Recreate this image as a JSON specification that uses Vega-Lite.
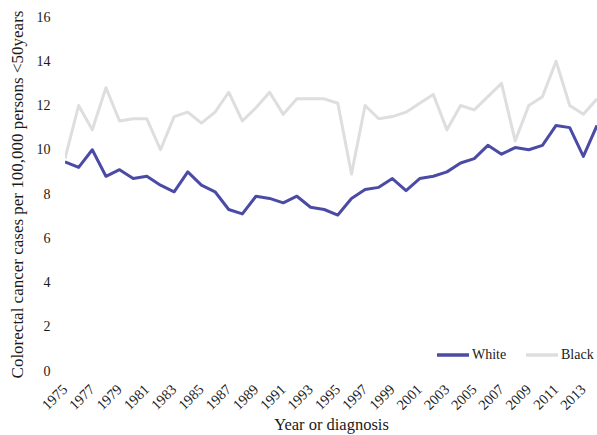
{
  "$schema": "https://vega.github.io/schema/vega-lite/v6.json",
  "width": 532,
  "height": 354,
  "autosize": "none",
  "padding": {"left": 65, "top": 17, "right": 0, "bottom": 64},
  "background": "white",
  "config": {
    "view": {"stroke": null},
    "font": "Liberation Serif"
  },
  "data": {
    "values": [
      {"year": 1975, "race": "White", "rate": 9.45},
      {"year": 1976, "race": "White", "rate": 9.2},
      {"year": 1977, "race": "White", "rate": 10.0},
      {"year": 1978, "race": "White", "rate": 8.8},
      {"year": 1979, "race": "White", "rate": 9.1},
      {"year": 1980, "race": "White", "rate": 8.7},
      {"year": 1981, "race": "White", "rate": 8.8},
      {"year": 1982, "race": "White", "rate": 8.4},
      {"year": 1983, "race": "White", "rate": 8.1},
      {"year": 1984, "race": "White", "rate": 9.0},
      {"year": 1985, "race": "White", "rate": 8.4},
      {"year": 1986, "race": "White", "rate": 8.1},
      {"year": 1987, "race": "White", "rate": 7.3},
      {"year": 1988, "race": "White", "rate": 7.1},
      {"year": 1989, "race": "White", "rate": 7.9},
      {"year": 1990, "race": "White", "rate": 7.8},
      {"year": 1991, "race": "White", "rate": 7.6},
      {"year": 1992, "race": "White", "rate": 7.9},
      {"year": 1993, "race": "White", "rate": 7.4},
      {"year": 1994, "race": "White", "rate": 7.3},
      {"year": 1995, "race": "White", "rate": 7.05},
      {"year": 1996, "race": "White", "rate": 7.8},
      {"year": 1997, "race": "White", "rate": 8.2},
      {"year": 1998, "race": "White", "rate": 8.3},
      {"year": 1999, "race": "White", "rate": 8.7},
      {"year": 2000, "race": "White", "rate": 8.15},
      {"year": 2001, "race": "White", "rate": 8.7},
      {"year": 2002, "race": "White", "rate": 8.8},
      {"year": 2003, "race": "White", "rate": 9.0},
      {"year": 2004, "race": "White", "rate": 9.4},
      {"year": 2005, "race": "White", "rate": 9.6},
      {"year": 2006, "race": "White", "rate": 10.2},
      {"year": 2007, "race": "White", "rate": 9.8},
      {"year": 2008, "race": "White", "rate": 10.1},
      {"year": 2009, "race": "White", "rate": 10.0},
      {"year": 2010, "race": "White", "rate": 10.2},
      {"year": 2011, "race": "White", "rate": 11.1},
      {"year": 2012, "race": "White", "rate": 11.0},
      {"year": 2013, "race": "White", "rate": 9.7},
      {"year": 2014, "race": "White", "rate": 11.1},
      {"year": 1975, "race": "Black", "rate": 9.6},
      {"year": 1976, "race": "Black", "rate": 12.0},
      {"year": 1977, "race": "Black", "rate": 10.9},
      {"year": 1978, "race": "Black", "rate": 12.8},
      {"year": 1979, "race": "Black", "rate": 11.3},
      {"year": 1980, "race": "Black", "rate": 11.4},
      {"year": 1981, "race": "Black", "rate": 11.4},
      {"year": 1982, "race": "Black", "rate": 10.0},
      {"year": 1983, "race": "Black", "rate": 11.5},
      {"year": 1984, "race": "Black", "rate": 11.7},
      {"year": 1985, "race": "Black", "rate": 11.2},
      {"year": 1986, "race": "Black", "rate": 11.7},
      {"year": 1987, "race": "Black", "rate": 12.6},
      {"year": 1988, "race": "Black", "rate": 11.3},
      {"year": 1989, "race": "Black", "rate": 11.9},
      {"year": 1990, "race": "Black", "rate": 12.6},
      {"year": 1991, "race": "Black", "rate": 11.6},
      {"year": 1992, "race": "Black", "rate": 12.3},
      {"year": 1993, "race": "Black", "rate": 12.3},
      {"year": 1994, "race": "Black", "rate": 12.3},
      {"year": 1995, "race": "Black", "rate": 12.1},
      {"year": 1996, "race": "Black", "rate": 8.9},
      {"year": 1997, "race": "Black", "rate": 12.0},
      {"year": 1998, "race": "Black", "rate": 11.4},
      {"year": 1999, "race": "Black", "rate": 11.5},
      {"year": 2000, "race": "Black", "rate": 11.7},
      {"year": 2001, "race": "Black", "rate": 12.1},
      {"year": 2002, "race": "Black", "rate": 12.5},
      {"year": 2003, "race": "Black", "rate": 10.9},
      {"year": 2004, "race": "Black", "rate": 12.0},
      {"year": 2005, "race": "Black", "rate": 11.8},
      {"year": 2006, "race": "Black", "rate": 12.4},
      {"year": 2007, "race": "Black", "rate": 13.0},
      {"year": 2008, "race": "Black", "rate": 10.4},
      {"year": 2009, "race": "Black", "rate": 12.0},
      {"year": 2010, "race": "Black", "rate": 12.4},
      {"year": 2011, "race": "Black", "rate": 14.0},
      {"year": 2012, "race": "Black", "rate": 12.0},
      {"year": 2013, "race": "Black", "rate": 11.6},
      {"year": 2014, "race": "Black", "rate": 12.3}
    ]
  },
  "mark": {"type": "line", "strokeWidth": 3, "strokeJoin": "round", "clip": true},
  "encoding": {
    "x": {
      "field": "year",
      "type": "quantitative",
      "scale": {"domain": [1975, 2014], "nice": false, "zero": false},
      "axis": {
        "title": "Year or diagnosis",
        "titleFont": "Liberation Serif",
        "titleFontSize": 16.5,
        "titleFontWeight": "normal",
        "titleColor": "#1a1a1a",
        "titlePadding": 4,
        "values": [1975, 1977, 1979, 1981, 1983, 1985, 1987, 1989, 1991, 1993, 1995, 1997, 1999, 2001, 2003, 2005, 2007, 2009, 2011, 2013],
        "format": "d",
        "labelAngle": -45,
        "labelAlign": "right",
        "labelBaseline": "middle",
        "labelFont": "Liberation Serif",
        "labelFontSize": 14.5,
        "labelColor": "#1a1a1a",
        "labelPadding": 16,
        "labelDx": 4,
        "labelOverlap": false,
        "labelFlush": false,
        "domain": false,
        "ticks": false,
        "grid": false
      }
    },
    "y": {
      "field": "rate",
      "type": "quantitative",
      "scale": {"domain": [0, 16], "nice": false},
      "axis": {
        "title": "Colorectal cancer cases per 100,000 persons <50years",
        "titleFont": "Liberation Serif",
        "titleFontSize": 17,
        "titleFontWeight": "normal",
        "titleColor": "#1a1a1a",
        "titlePadding": 10,
        "values": [0, 2, 4, 6, 8, 10, 12, 14, 16],
        "labelFont": "Liberation Serif",
        "labelFontSize": 14,
        "labelColor": "#1a1a1a",
        "labelPadding": 15,
        "domain": false,
        "ticks": false,
        "grid": false
      }
    },
    "color": {
      "field": "race",
      "type": "nominal",
      "scale": {"domain": ["White", "Black"], "range": ["#4b4ba6", "#dedede"]},
      "legend": {
        "title": null,
        "orient": "none",
        "legendX": 370,
        "legendY": 320,
        "direction": "horizontal",
        "symbolType": "stroke",
        "symbolSize": 1024,
        "symbolStrokeWidth": 3.5,
        "symbolOffset": 0,
        "labelFont": "Liberation Serif",
        "labelFontSize": 14,
        "labelColor": "#1a1a1a",
        "labelOffset": 1,
        "columnPadding": 12
      }
    }
  }
}
